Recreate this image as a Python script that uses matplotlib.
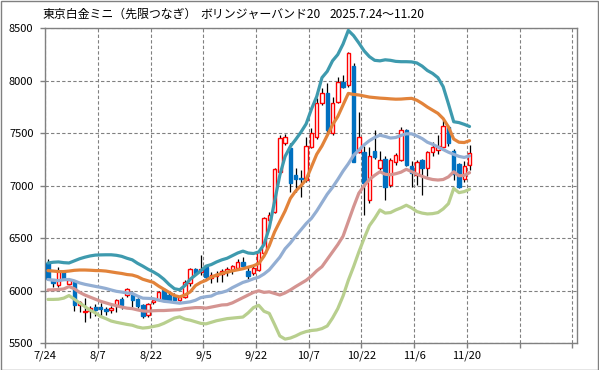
import numpy as np
import matplotlib.pyplot as plt
from matplotlib.patches import Rectangle

plt.rcParams['font.family'] = ['Noto Sans CJK JP', 'DejaVu Sans']

# --- データ（チャートから読み取り） ---
tick_labels = ["7/24", "8/7", "8/22", "9/5", "9/22", "10/7", "10/22", "11/6", "11/20", "", ""]

open_ = [6262, 6109, 6055, 6189, 6065, 6087, 5865, 5800, 5810, 5845,
         5849, 5830, 5817, 5855, 5919, 5957, 5960, 5922, 5865, 5769,
         5895, 5912, 6008, 5960, 5955, 5915, 5944, 6071, 6204, 6180,
         6230, 6120, 6140, 6160, 6175, 6195, 6214, 6277, 6192, 6166,
         6198, 6360, 6674, 6753, 7135, 7404, 7357, 7103, 7077, 7055,
         7373, 7468, 7785, 7880, 7500, 7801, 7992, 7960, 8141, 7325,
         7325, 6865, 7331, 7166, 7252, 7007, 7223, 7250, 7531, 7188,
         7103, 7245, 7166, 7325, 7340, 7372, 7563, 7330, 7207, 7061,
         7198]
high = [6300, 6115, 6230, 6200, 6110, 6095, 5905, 5930, 5860, 5870,
        5880, 5845, 5860, 5925, 5945, 6025, 6000, 5935, 5870, 5880,
        5935, 6000, 6030, 5980, 5975, 5960, 6100, 6220, 6215, 6341,
        6240, 6180, 6190, 6210, 6230, 6250, 6300, 6320, 6230, 6240,
        6380, 6700, 6750, 7170, 7484, 7490, 7404, 7165, 7150, 7468,
        7547, 7833, 7928, 7976, 7849, 8039, 8055, 8270, 8170, 7700,
        7380, 7373, 7530, 7330, 7280, 7262, 7310, 7560, 7540, 7240,
        7250, 7260, 7330, 7420, 7480, 7626, 7580, 7350, 7220, 7240,
        7388]
low = [6100, 6033, 6040, 6110, 6040, 5808, 5800, 5706, 5740, 5760,
       5750, 5769, 5790, 5800, 5830, 5940, 5850, 5840, 5740, 5750,
       5870, 5900, 5905, 5890, 5895, 5900, 5930, 6050, 6150, 6150,
       6100, 6070, 6080, 6080, 6140, 6160, 6200, 6230, 6110, 6150,
       6190, 6340, 6660, 6740, 7120, 7390, 6944, 6944, 6896, 7040,
       7360, 7450, 7770, 7500, 7480, 7790, 7930, 7940, 7230, 7310,
       6720, 6840, 7260, 7150, 6865, 6990, 7200, 7240, 7190, 6992,
       7010, 6912, 7090, 7280, 7300, 7360, 7380, 7060, 6980, 7040,
       7150]
close = [6109, 6071, 6189, 6125, 6103, 5865, 5897, 5808, 5835, 5820,
         5823, 5810, 5839, 5912, 5865, 6014, 5912, 5855, 5760, 5874,
         5912, 5992, 5919, 5906, 5910, 5940, 6087, 6204, 6172, 6204,
         6134, 6150, 6160, 6190, 6210, 6240, 6277, 6236, 6141, 6214,
         6366, 6690, 6722, 7157, 7452, 7461, 7023, 7061, 7061, 7382,
         7500, 7785, 7880, 7531, 7785, 7992, 7944, 8262, 7230, 7468,
         7023, 7284, 7271, 7245, 6992, 7245, 7293, 7531, 7198, 7120,
         7230, 7166, 7318, 7373, 7380, 7569, 7404, 7110, 6992, 7192,
         7315]

band_p2 = [6265, 6272, 6275, 6268, 6265, 6285, 6305, 6320, 6332, 6340,
           6342, 6343, 6343, 6338, 6328, 6310, 6295, 6262, 6235, 6205,
           6180, 6150, 6110, 6060, 6020, 6010, 6050, 6110, 6150, 6190,
           6235, 6250, 6275, 6295, 6310, 6335, 6360, 6378, 6360, 6355,
           6370, 6440, 6600, 6850, 7100, 7280, 7375, 7440, 7510, 7590,
           7730, 7850, 8030, 8090, 8190, 8250, 8350, 8480, 8430, 8360,
           8285, 8230, 8195, 8190, 8200, 8195, 8185, 8182, 8182, 8180,
           8170, 8140, 8098, 8070, 8030, 7944, 7780, 7610, 7602, 7585,
           7565]
band_p1 = [6192, 6188, 6183, 6183, 6188, 6195, 6198, 6198, 6196, 6193,
           6192, 6188, 6180, 6172, 6165, 6155, 6150, 6135, 6110, 6095,
           6080, 6045, 6015, 5985, 5955, 5942, 5960, 5990, 6050, 6080,
           6100, 6130, 6150, 6165, 6178, 6190, 6200, 6210, 6225, 6238,
           6260, 6330, 6430, 6560, 6660, 6760, 6880, 6950, 7000, 7060,
           7180, 7300, 7380, 7480, 7580, 7660, 7770, 7880, 7870, 7865,
           7855, 7845, 7840, 7835, 7832, 7828, 7825, 7826, 7830, 7833,
           7815, 7785, 7750, 7720, 7690, 7640, 7560, 7445, 7415, 7412,
           7430]
band_ma = [6108, 6100, 6097, 6105, 6108, 6095, 6075, 6062, 6052, 6042,
           6033, 6022, 6008, 5995, 5988, 5980, 5975, 5950, 5930, 5928,
           5925, 5912, 5900, 5895, 5888, 5882, 5888, 5895, 5910, 5935,
           5944, 5950, 5975, 5985, 6000, 6030, 6055, 6080, 6095, 6115,
           6130, 6160, 6200, 6260, 6320, 6400, 6455, 6520, 6580, 6640,
           6690, 6760, 6840, 6920, 6985, 7060, 7140, 7210, 7290, 7340,
           7390, 7430, 7460, 7482, 7470, 7455, 7460, 7480, 7495, 7495,
           7475, 7450, 7415, 7395, 7370, 7345, 7320, 7300, 7280, 7270,
           7285]
band_m1 = [6008, 6010, 6012, 6018, 6040, 6020, 5985, 5960, 5940, 5920,
           5900, 5885, 5870, 5858, 5845, 5835, 5830, 5818, 5808, 5805,
           5810, 5812, 5812, 5815, 5818, 5820, 5830, 5835, 5840, 5840,
           5835, 5845, 5855, 5865, 5868, 5885, 5910, 5935, 5960, 5985,
           6000, 5985, 5990, 5975, 5960, 5980, 6008, 6040, 6070, 6100,
           6140, 6190, 6230, 6300, 6370, 6440, 6520, 6660, 6800, 6930,
           7000, 7060, 7100, 7134, 7110, 7105, 7115, 7130, 7157, 7135,
           7112, 7090, 7072, 7060, 7055, 7060, 7085, 7134, 7095, 7100,
           7125]
band_m2 = [5918, 5918, 5920, 5930, 5955, 5920, 5885, 5850, 5815, 5790,
           5755, 5735, 5712, 5700, 5690, 5680, 5672, 5655, 5645, 5650,
           5660, 5670, 5690, 5715, 5740, 5752, 5730, 5720, 5705, 5690,
           5685, 5700, 5715, 5725, 5735, 5740, 5745, 5750, 5790, 5840,
           5862, 5805, 5785, 5680, 5570, 5540, 5550, 5570, 5595, 5612,
           5622, 5627, 5640, 5665, 5740, 5830, 5950, 6100, 6230, 6370,
           6500, 6620, 6690, 6770, 6740, 6745, 6770, 6790, 6815, 6790,
           6755, 6740, 6732, 6735, 6745, 6780, 6830, 6975, 6935, 6945,
           6967]

# --- グラフ ---
fig = plt.figure(figsize=(5.99, 3.70), dpi=100)
ax = fig.add_axes([45.3 / 599, 1 - 343.3 / 370, 532 / 599, 315 / 370])

n = len(close)
x = np.arange(n) + 0.5
o = np.array(open_)
c = np.array(close)

ax.vlines(x, low, high, color="black", linewidth=0.9, zorder=2)
up = c >= o
body_lo = np.minimum(o, c)
body_h = np.maximum(np.abs(c - o), 6)
ax.bar(x[up], body_h[up], bottom=body_lo[up], width=0.66,
       facecolor="white", edgecolor="#FF0000", linewidth=1.0, zorder=3)
ax.bar(x[~up], body_h[~up], bottom=body_lo[~up], width=0.66,
       facecolor="#0070C0", edgecolor="#0070C0", linewidth=1.0, zorder=3)

for vals, col in [(band_m2, "#B8CF8E"), (band_m1, "#D49491"), (band_ma, "#93AED3"),
                  (band_p1, "#E2833A"), (band_p2, "#3E9AAE")]:
    ax.plot(x, vals, color=col, linewidth=2.3, solid_capstyle="round", zorder=4)

ax.set_xlim(0, 100.95)
ax.set_ylim(5500, 8500)
ax.set_xticks(np.arange(0, 101, 10))
ax.set_xticklabels(tick_labels)
ax.set_yticks(np.arange(5500, 8501, 500))
ax.grid(True, color="#808080", linestyle=(0, (3, 2)), linewidth=0.8)
ax.set_axisbelow(True)
for s in ax.spines.values():
    s.set_color("#808080")
    s.set_linewidth(1.0)
ax.tick_params(axis="both", colors="#808080", length=3.5, width=1.0, labelcolor="black",
               labelsize=8)
ax.tick_params(axis="y", pad=5)
ax.tick_params(axis="x", pad=2)

fig.text(42 / 599, 1 - 14 / 370, "東京白金ミニ（先限つなぎ）", fontsize=8.6, va="center", ha="left")
fig.text(200 / 599, 1 - 14 / 370, "ボリンジャーバンド20", fontsize=8.6, va="center", ha="left")
fig.text(330 / 599, 1 - 14 / 370, "2025.7.24～11.20", fontsize=8.6, va="center", ha="left")

fig.patches.append(Rectangle((0.5 / 599, 0.5 / 370), 597.5 / 599, 368.5 / 370, transform=fig.transFigure,
                             fill=False, edgecolor="#808080", linewidth=1.0))

fig.savefig("out.png", dpi=100)
